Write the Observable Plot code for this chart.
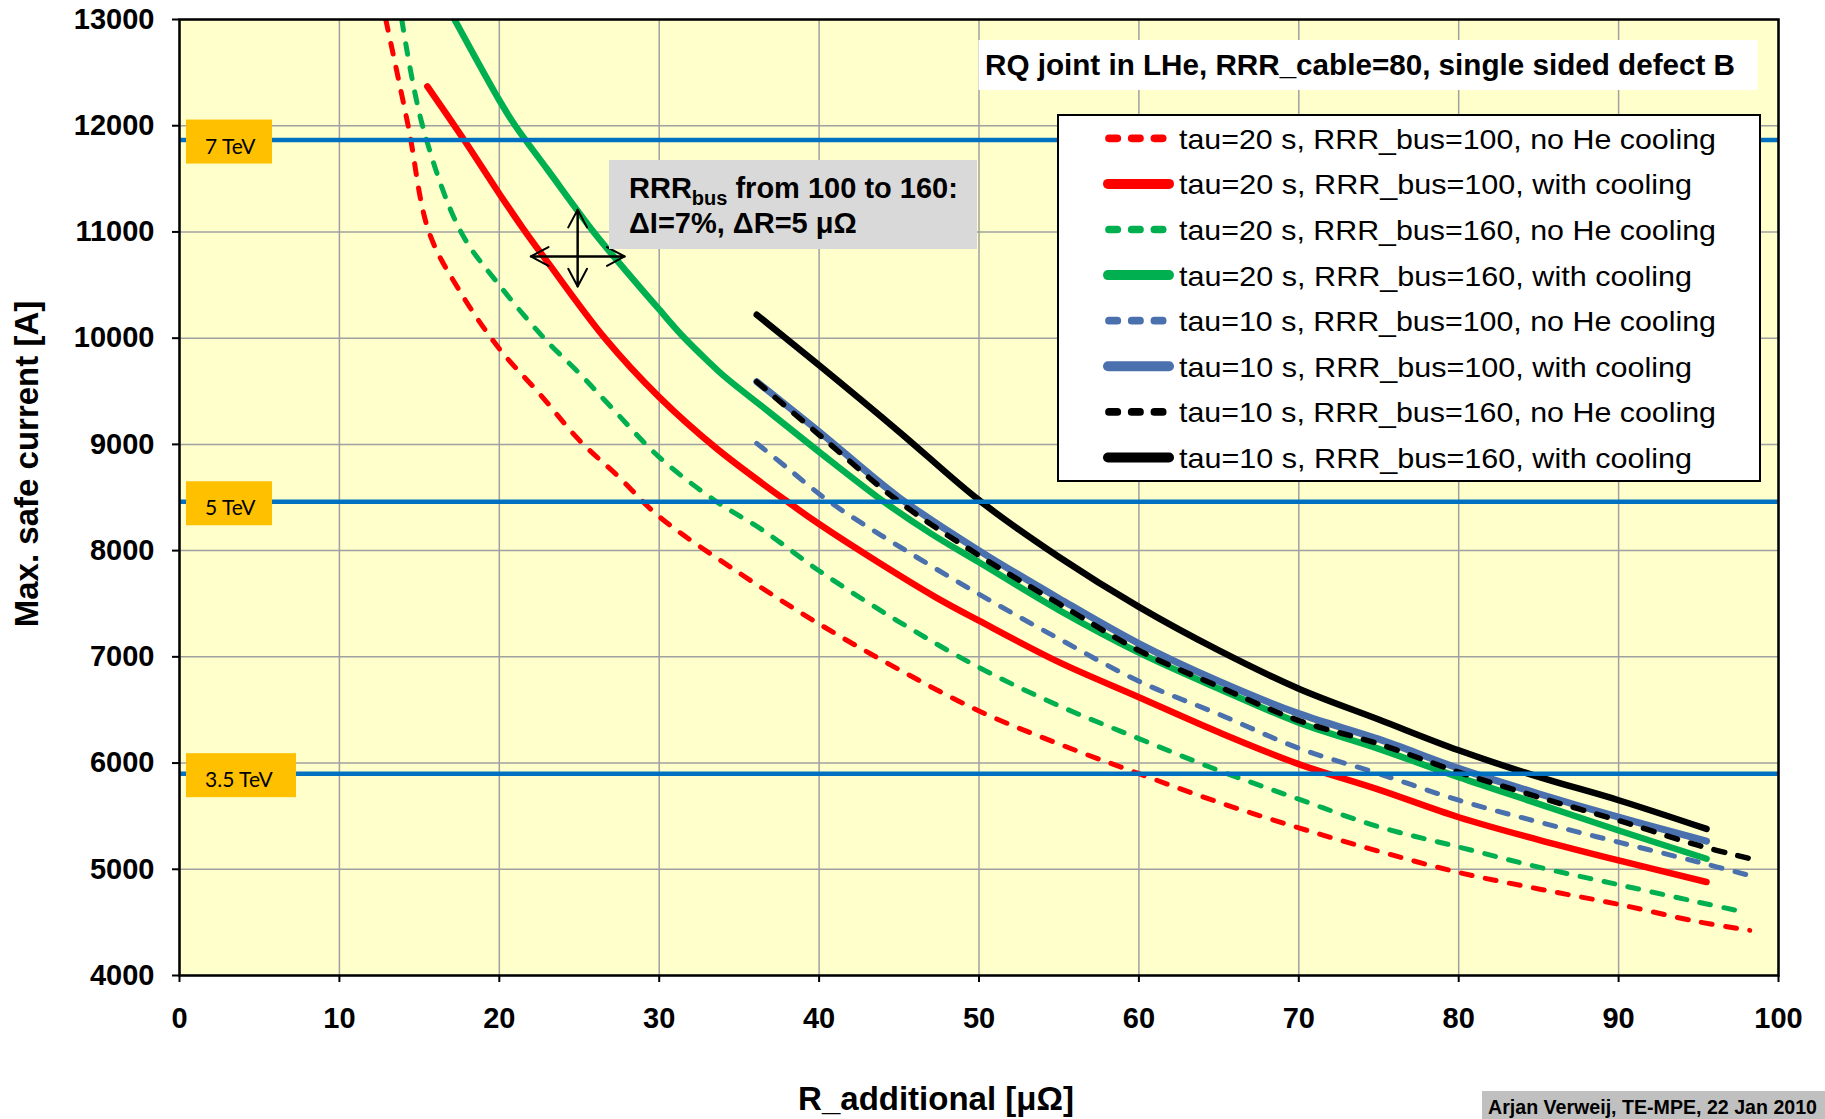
<!DOCTYPE html>
<html><head><meta charset="utf-8">
<script src="https://cdn.jsdelivr.net/npm/d3@7"></script>
<script src="https://cdn.jsdelivr.net/npm/@observablehq/plot@0.6"></script>
<style>body{margin:0;background:#fff} svg{display:block}</style>
</head><body><div id="chart"></div>
<script>
// ---------- data ----------
// R_additional [µΩ] and Max. safe current [A] for each series
const rd_x = [12.9, 14.3, 15.6, 17.5, 20, 22.5, 25, 27.5, 30, 35, 40, 45, 50, 55, 60, 65, 70, 75, 80, 85, 90, 95, 98.2];
const rd_y = [13000, 12000, 11000, 10450, 9900, 9480, 9040, 8690, 8320, 7790, 7310, 6880, 6490, 6180, 5900, 5630, 5390, 5170, 4970, 4815, 4670, 4505, 4425];
const rs_x = [15.5, 17.8, 20, 21.5, 23, 26.6, 30, 33.6, 38.3, 40, 43.7, 47.3, 50, 55, 60, 65, 70, 75, 80, 85, 90, 95.5];
const rs_y = [12370, 11865, 11360, 11030, 10720, 10000, 9445, 8960, 8430, 8250, 7890, 7560, 7340, 6950, 6620, 6290, 5990, 5750, 5490, 5277, 5083, 4880];
const gd_x = [13.9, 15.2, 17.6, 20, 22.8, 25, 27, 30, 33.5, 36.5, 40, 45, 50, 55, 60, 65, 70, 75, 80, 85, 90, 95, 97.9];
const gd_y = [13000, 12000, 11000, 10500, 10000, 9670, 9350, 8880, 8470, 8190, 7810, 7330, 6900, 6540, 6230, 5930, 5660, 5400, 5210, 5020, 4855, 4690, 4596];
const gs_x = [17.2, 20, 21.0, 23, 25.9, 28, 30, 31.4, 33, 34, 37, 40, 44, 47, 50, 55, 60, 65, 70, 75, 80, 85, 90, 95.5];
const gs_y = [13000, 12240, 12000, 11590, 11000, 10620, 10270, 10030, 9790, 9650, 9290, 8930, 8466, 8160, 7890, 7440, 7040, 6700, 6380, 6134, 5867, 5616, 5365, 5099];
const bd_x = [36.1, 38, 40.6, 45, 50, 55, 60, 65, 70, 75, 80, 85, 90, 95, 98.2];
const bd_y = [9010, 8780, 8466, 8040, 7590, 7170, 6770, 6460, 6140, 5900, 5650, 5445, 5255, 5067, 4941];
const bs_x = [36.1, 40, 45, 50, 55, 60, 65, 70, 75, 80, 85, 90, 95.5];
const bs_y = [9590, 9120, 8500, 8000, 7550, 7125, 6770, 6465, 6225, 5950, 5711, 5490, 5265];
const kd_x = [36.1, 40, 45, 50, 55, 60, 65, 70, 75, 80, 85, 90, 95, 98.1];
const kd_y = [9590, 9090, 8460, 7955, 7500, 7060, 6720, 6400, 6180, 5914, 5679, 5459, 5224, 5105];
const ks_x = [36.1, 40, 45, 50, 55, 60, 65, 70, 75, 80, 85, 90, 95.5];
const ks_y = [10220, 9745, 9120, 8475, 7940, 7470, 7060, 6700, 6410, 6120, 5870, 5650, 5380];

const legendLabels = [
  "tau=20 s, RRR_bus=100, no He cooling",
  "tau=20 s, RRR_bus=100, with cooling",
  "tau=20 s, RRR_bus=160, no He cooling",
  "tau=20 s, RRR_bus=160, with cooling",
  "tau=10 s, RRR_bus=100, no He cooling",
  "tau=10 s, RRR_bus=100, with cooling",
  "tau=10 s, RRR_bus=160, no He cooling",
  "tau=10 s, RRR_bus=160, with cooling"
];
const energyLabels = ["7 TeV", "5 TeV", "3.5 TeV"];
const energyCurrents = [11865, 8460, 5900];
const xTicks = [0, 10, 20, 30, 40, 50, 60, 70, 80, 90, 100];
const yTicks = [4000, 5000, 6000, 7000, 8000, 9000, 10000, 11000, 12000, 13000];
// annotation arrows (data units)
const arrowX1 = [21.97, 27.84, 24.9, 24.9];
const arrowX2 = [27.84, 21.97, 24.9, 24.9];
const arrowY1 = [10769, 10769, 10487, 11209];
const arrowY2 = [10769, 10769, 11209, 10487];

// ---------- styles ----------
const seriesX = [rd_x, rs_x, gd_x, gs_x, bd_x, bs_x, kd_x, ks_x];
const seriesY = [rd_y, rs_y, gd_y, gs_y, bd_y, bs_y, kd_y, ks_y];
const seriesStyle = [
  {color: "#ff0000", dash: true,  width: 5},
  {color: "#ff0000", dash: false, width: 6.5},
  {color: "#00b050", dash: true,  width: 5},
  {color: "#00b050", dash: false, width: 6.5},
  {color: "#4a70ad", dash: true,  width: 5},
  {color: "#4a70ad", dash: false, width: 7},
  {color: "#000000", dash: true,  width: 5.5},
  {color: "#000000", dash: false, width: 6.5}
];

const rows = seriesX.flatMap((xs, i) => xs.map((x, j) => ({series: i, x, y: seriesY[i][j]})));
const arrows = arrowX1.map((x1, i) => ({x1, x2: arrowX2[i], y1: arrowY1[i], y2: arrowY2[i]}));

const lineMarks = seriesStyle.map((s, i) => Plot.line(rows.filter(d => d.series === i), {
  x: "x", y: "y", stroke: s.color, strokeWidth: s.width,
  strokeDasharray: s.dash ? "11,13.5" : undefined,
  strokeLinecap: "round", strokeLinejoin: "round",
  curve: "catmull-rom", clip: true
}));

const FONT = "Liberation Sans, Arial, Helvetica, sans-serif";

const chart = Plot.plot({
  width: 1825, height: 1119,
  marginLeft: 179, marginRight: 47, marginTop: 19, marginBottom: 144,
  style: {fontFamily: FONT, fontSize: "29px", color: "black", background: "white", overflow: "visible"},
  x: {domain: [0, 100]},
  y: {domain: [4000, 13000]},
  marks: [
    Plot.frame({fill: "#ffffcc"}),
    Plot.gridX({ticks: xTicks, stroke: "#a0a0a0", strokeOpacity: 1, strokeWidth: 1.5}),
    Plot.gridY({ticks: yTicks, stroke: "#a0a0a0", strokeOpacity: 1, strokeWidth: 1.5}),
    ...lineMarks,
    Plot.ruleY(energyCurrents, {stroke: "#0070c0", strokeWidth: 4.5}),
    Plot.arrow(arrows, {x1: "x1", y1: "y1", x2: "x2", y2: "y2", stroke: "black", strokeWidth: 2, headLength: 15, headAngle: 56}),
    Plot.frame({stroke: "black", strokeWidth: 2.5}),
    Plot.axisX({ticks: xTicks, tickSize: 7, tickPadding: 25, fontSize: 29, fontWeight: "bold", label: null, strokeWidth: 2, tickFormat: d3.format("d")}),
    Plot.axisY({ticks: yTicks, tickSize: 7, tickPadding: 18, fontSize: 29, fontWeight: "bold", label: null, strokeWidth: 2, tickFormat: d3.format("d")})
  ]
});
document.getElementById("chart").appendChild(chart);

// ---------- annotations drawn over the plot ----------
const svg = d3.select(chart);
const g = svg.append("g").attr("font-family", FONT).attr("text-anchor", "start");
const yS = chart.scale("y");

// energy label boxes
const boxW = [86, 86, 110];
energyLabels.forEach((lab, i) => {
  const yy = yS.apply(energyCurrents[i]);
  g.append("rect").attr("x", 186).attr("y", yy - 20).attr("width", boxW[i]).attr("height", 44).attr("fill", "#ffc000");
  g.append("text").attr("x", 205).attr("y", yy + 14).attr("font-family", "Lato, 'Open Sans', sans-serif")
    .attr("font-size", 21).attr("fill", "black").text(lab);
});

// title box
g.append("rect").attr("x", 978.5).attr("y", 40).attr("width", 779).attr("height", 50).attr("fill", "white");
g.append("text").attr("x", 985).attr("y", 75).attr("font-size", 29.5).attr("font-weight", "bold")
  .attr("textLength", 750).attr("lengthAdjust", "spacingAndGlyphs")
  .text("RQ joint in LHe, RRR_cable=80, single sided defect B");

// legend
g.append("rect").attr("x", 1058).attr("y", 115).attr("width", 702).attr("height", 366)
  .attr("fill", "white").attr("stroke", "black").attr("stroke-width", 2);
legendLabels.forEach((lab, i) => {
  const s = seriesStyle[i];
  const cy = 138.3 + i * 45.6;
  if (s.dash) {
    g.append("line").attr("x1", 1109).attr("x2", 1163).attr("y1", cy).attr("y2", cy)
      .attr("stroke", s.color).attr("stroke-width", 7.7).attr("stroke-linecap", "round").attr("stroke-dasharray", "8.3,14.4");
  } else {
    g.append("line").attr("x1", 1108).attr("x2", 1169).attr("y1", cy).attr("y2", cy)
      .attr("stroke", s.color).attr("stroke-width", 10).attr("stroke-linecap", "round");
  }
  g.append("text").attr("x", 1179).attr("y", cy + 10.5).attr("font-size", 28.5)
    .attr("textLength", lab.includes("no He") ? 537 : 513).attr("lengthAdjust", "spacingAndGlyphs")
    .attr("fill", "black").text(lab);
});

// RRR annotation box
g.append("rect").attr("x", 609).attr("y", 160).attr("width", 368).attr("height", 89).attr("fill", "#d9d9d9");
const t1 = g.append("text").attr("x", 629).attr("y", 198.3).attr("font-size", 29).attr("font-weight", "bold");
t1.append("tspan").text("RRR");
t1.append("tspan").attr("font-size", 20).attr("dy", 7).text("bus");
t1.append("tspan").attr("dy", -7).text(" from 100 to 160:");
g.append("text").attr("x", 629).attr("y", 233.3).attr("font-size", 29).attr("font-weight", "bold")
  .text("\u0394I=7%, \u0394R=5 \u03bc\u03a9");

// axis titles
g.append("text").attr("x", 936).attr("y", 1110).attr("text-anchor", "middle")
  .attr("font-size", 33).attr("font-weight", "bold").text("R_additional [\u03bc\u03a9]");
g.append("text").attr("transform", "translate(38,464) rotate(-90)").attr("text-anchor", "middle")
  .attr("font-size", 33).attr("font-weight", "bold").text("Max. safe current [A]");

// credit
g.append("rect").attr("x", 1482).attr("y", 1091).attr("width", 343).attr("height", 28).attr("fill", "#c0c0c0");
g.append("text").attr("x", 1488).attr("y", 1114).attr("font-size", 19.5).attr("font-weight", "bold")
  .attr("textLength", 329).attr("lengthAdjust", "spacingAndGlyphs")
  .text("Arjan Verweij, TE-MPE, 22 Jan 2010");
</script>
</body></html>
